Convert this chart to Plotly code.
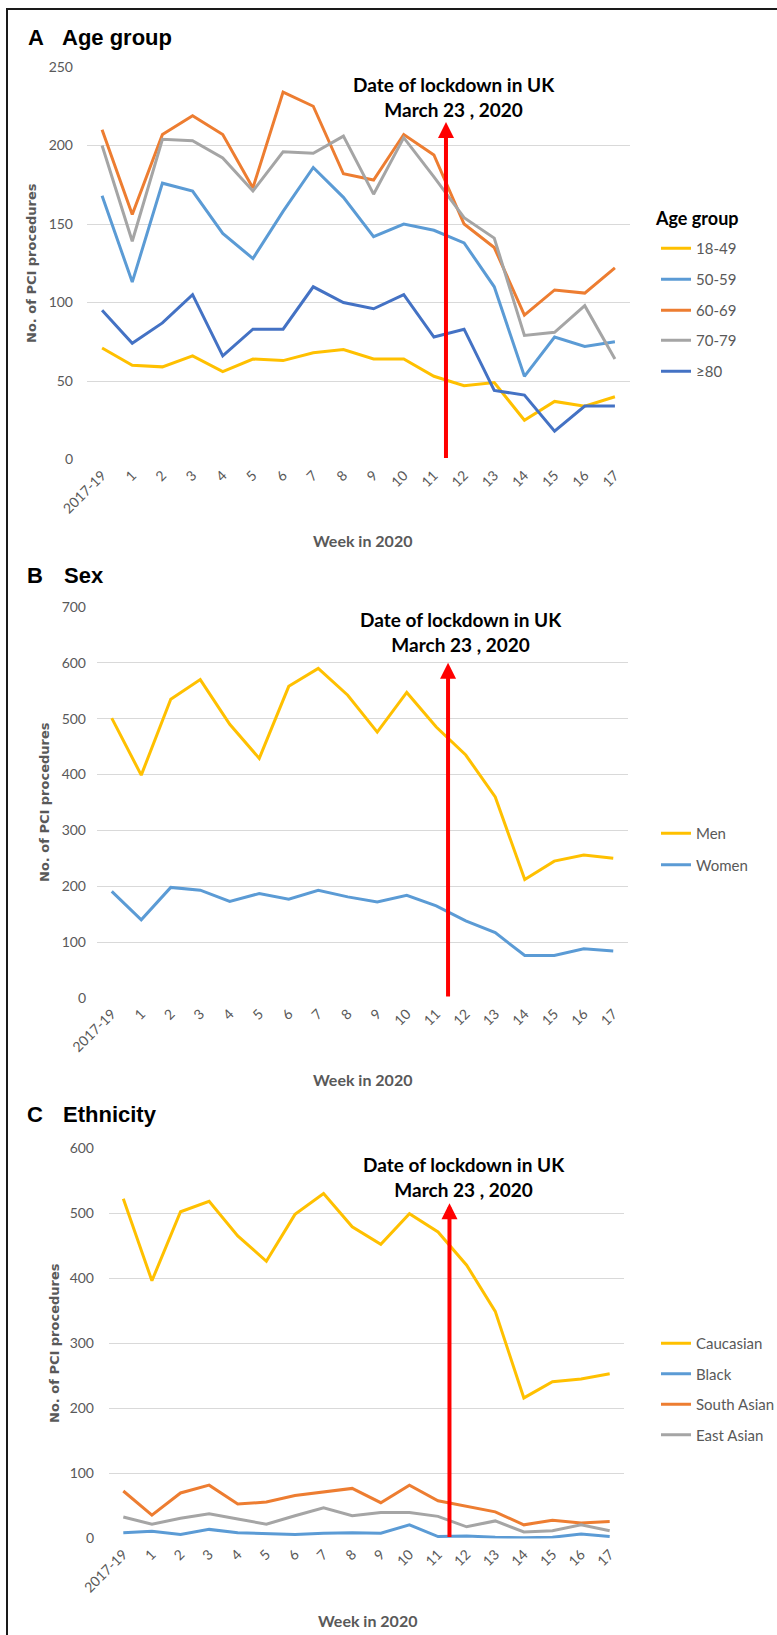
import plotly.graph_objects as go

W, H = 777, 1635

# Week categories on the x axis
weeks = ["2017-19", "1", "2", "3", "4", "5", "6", "7", "8", "9",
         "10", "11", "12", "13", "14", "15", "16", "17"]

# Panel A: PCI procedures by age group
age_labels = ["18-49", "50-59", "60-69", "70-79", "≥80"]
age_18_49 = [71, 60, 59, 66, 56, 64, 63, 68, 70, 64, 64, 53, 47, 49, 25, 37, 34, 40]
age_50_59 = [168, 113, 176, 171, 144, 128, 158, 186, 167, 142, 150, 146, 138, 110, 53, 78, 72, 75]
age_60_69 = [210, 156, 207, 219, 207, 173, 234, 225, 182, 178, 207, 194, 150, 135, 92, 108, 106, 122]
age_70_79 = [200, 139, 204, 203, 192, 171, 196, 195, 206, 169, 205, 180, 154, 141, 79, 81, 98, 64]
age_80_plus = [95, 74, 87, 105, 66, 83, 83, 110, 100, 96, 105, 78, 83, 44, 41, 18, 34, 34]

# Panel B: PCI procedures by sex
sex_labels = ["Men", "Women"]
men = [501, 399, 535, 570, 490, 429, 558, 590, 542, 476, 547, 485, 435, 360, 212, 245, 256, 250]
women = [191, 140, 198, 193, 173, 187, 177, 193, 181, 172, 184, 165, 138, 117, 76, 76, 88, 84]

# Panel C: PCI procedures by ethnicity
eth_labels = ["Caucasian", "Black", "South Asian", "East Asian"]
caucasian = [522, 396, 502, 518, 465, 426, 498, 530, 479, 452, 499, 471, 420, 349, 216, 241, 245, 253]
black = [9, 11, 6, 14, 9, 8, 6, 8, 9, 8, 21, 3, 4, 2, 1, 2, 7, 3]
south_asian = [73, 36, 70, 82, 53, 56, 66, 72, 77, 55, 82, 58, 49, 41, 21, 28, 24, 26]
east_asian = [33, 22, 31, 38, 30, 22, 35, 47, 35, 40, 40, 34, 18, 27, 10, 12, 21, 12]

# Lockdown marker: position between weeks 11 and 12, arrow heights per panel
lockdown_pos = 11.4
arrow_tops = [215, 600, 515]

YELLOW, LBLUE, ORANGE, GREY, DBLUE = "#FFC000", "#5B9BD5", "#ED7D31", "#A5A5A5", "#4472C4"
TICK_GREY = "#595959"
GRID = "#D9D9D9"
BODY_FONT = "Lato"


def px(x):
    return x / W


def py(y):
    return 1 - y / H


fig = go.Figure()

# Age-group entries each get their own legend box so the rows can be spaced freely
panels = [
    dict(series=[age_18_49, age_50_59, age_60_69, age_70_79, age_80_plus],
         names=age_labels, colors=[YELLOW, LBLUE, ORANGE, GREY, DBLUE],
         xa="x", ya="y",
         legends=["legend", "legend4", "legend5", "legend6", "legend7"]),
    dict(series=[men, women], names=sex_labels, colors=[YELLOW, LBLUE],
         xa="x2", ya="y2", legends=["legend2"] * 2),
    dict(series=[caucasian, black, south_asian, east_asian], names=eth_labels,
         colors=[YELLOW, LBLUE, ORANGE, GREY],
         xa="x3", ya="y3", legends=["legend3"] * 4),
]

for p in panels:
    for vals, name, col, leg in zip(p["series"], p["names"], p["colors"], p["legends"]):
        fig.add_trace(go.Scatter(
            x=weeks, y=vals, name=name, mode="lines",
            line=dict(color=col, width=3),
            xaxis=p["xa"], yaxis=p["ya"], legend=leg,
            legendgroup=leg + "_" + name,
        ))

# Axis geometry (pixels): plot left/right, y of top gridline, y of zero line
geo = [
    dict(x0=87, x1=630, ytop=67, ybot=459.5, rng=[0, 250], dtick=50, stand=13),
    dict(x0=97, x1=628, ytop=607, ybot=998, rng=[0, 700], dtick=100, stand=10),
    dict(x0=109, x1=624, ytop=1148, ybot=1538.5, rng=[0, 600], dtick=100, stand=14),
]

tick_font = dict(family=BODY_FONT, size=14, color=TICK_GREY)
for i, g in enumerate(geo):
    suffix = "" if i == 0 else str(i + 1)
    fig.update_layout(**{
        "xaxis" + suffix: dict(
            domain=[px(g["x0"]), px(g["x1"])], anchor="y" + suffix,
            type="category", range=[-0.5, 17.5], tickangle=-45,
            showgrid=False, showline=False, zeroline=False, ticks="",
            tickfont=tick_font, ticklabelstandoff=4, fixedrange=True,
            automargin=False,
        ),
        "yaxis" + suffix: dict(
            domain=[py(g["ybot"]), py(g["ytop"])], anchor="x" + suffix,
            range=g["rng"], dtick=g["dtick"], showgrid=True, gridcolor=GRID,
            gridwidth=1, zeroline=False, showline=False, ticks="",
            tickfont=tick_font, ticklabelstandoff=g["stand"], fixedrange=True,
            automargin=False,
        ),
    })

annotations = []

# Lockdown arrows and captions
caption = "<b>Date of lockdown in UK<br>March 23 , 2020</b>"
caption_pos = [(454, 97), (461, 632), (464, 1177)]
for i, (top, (cx, cy)) in enumerate(zip(arrow_tops, caption_pos)):
    suffix = "" if i == 0 else str(i + 1)
    annotations.append(dict(
        x=lockdown_pos, y=top, ax=lockdown_pos, ay=0,
        xref="x" + suffix, yref="y" + suffix,
        axref="x" + suffix, ayref="y" + suffix,
        text="", showarrow=True, arrowhead=2, arrowsize=0.8,
        arrowwidth=4, arrowcolor="#FF0000", standoff=0,
    ))
    annotations.append(dict(
        x=px(cx), y=py(cy), xref="paper", yref="paper",
        xanchor="center", yanchor="middle", showarrow=False,
        text=caption, align="center",
        font=dict(family=BODY_FONT, size=19, color="#000000"),
    ))

# Panel headings
heading_font = dict(family="Liberation Sans", size=22, color="#000000")
headings = [("A", "Age group", 26, 60, 38), ("B", "Sex", 25, 62, 575),
            ("C", "Ethnicity", 25, 61, 1114)]
for letter, title, lx, tx, ty in headings:
    annotations.append(dict(x=px(lx), y=py(ty), xref="paper", yref="paper",
                            xanchor="left", yanchor="middle", showarrow=False,
                            text="<b>%s</b>" % letter, font=heading_font))
    annotations.append(dict(x=px(tx), y=py(ty), xref="paper", yref="paper",
                            xanchor="left", yanchor="middle", showarrow=False,
                            text="<b>%s</b>" % title, font=heading_font))

# Heading of the age-group legend
annotations.append(dict(x=px(653), y=py(218), xref="paper", yref="paper",
                        xanchor="left", yanchor="middle", showarrow=False,
                        text="<b>Age group</b>",
                        font=dict(family=BODY_FONT, size=18, color="#000000")))

# Axis titles
ytitle_font = dict(family="DejaVu Sans", size=13, color=TICK_GREY)
xtitle_font = dict(family=BODY_FONT, size=16, color=TICK_GREY)
ytitle_pos = [(31, 263), (44, 802), (54, 1343)]
xtitle_pos = [(362, 540), (362, 1079), (367, 1620)]
for (yx, yy), (xx, xy) in zip(ytitle_pos, xtitle_pos):
    annotations.append(dict(x=px(yx), y=py(yy), xref="paper", yref="paper",
                            xanchor="center", yanchor="middle", showarrow=False,
                            textangle=-90, text="<b>No. of PCI procedures</b>",
                            font=ytitle_font))
    annotations.append(dict(x=px(xx), y=py(xy), xref="paper", yref="paper",
                            xanchor="center", yanchor="middle", showarrow=False,
                            text="<b>Week in 2020</b>", font=xtitle_font))

legend_common = dict(
    xanchor="left", yanchor="top", bgcolor="rgba(0,0,0,0)", borderwidth=0,
    font=dict(family=BODY_FONT, size=15, color=TICK_GREY),
    traceorder="grouped", itemclick=False, itemdoubleclick=False,
)
LEG_X = px(656)

# Top edges (pixels) of the single-entry age-group legends
age_legend_tops = [232, 263, 294, 324, 355]
age_legend_ids = ["legend", "legend4", "legend5", "legend6", "legend7"]
legend_layout = {
    lid: dict(x=LEG_X, y=py(top), tracegroupgap=0, **legend_common)
    for lid, top in zip(age_legend_ids, age_legend_tops)
}

fig.update_layout(
    width=W, height=H,
    margin=dict(l=0, r=0, t=0, b=0, pad=0, autoexpand=False),
    paper_bgcolor="white", plot_bgcolor="white",
    showlegend=True,
    legend2=dict(x=LEG_X, y=py(817), tracegroupgap=9, **legend_common),
    legend3=dict(x=LEG_X, y=py(1327), tracegroupgap=8, **legend_common),
    annotations=annotations,
    shapes=[dict(type="rect", xref="paper", yref="paper",
                 x0=px(7), x1=1.02, y0=-0.02, y1=py(9),
                 line=dict(color="#1A1A1A", width=2), layer="above")],
    **legend_layout,
)

fig.write_html("out.html")
